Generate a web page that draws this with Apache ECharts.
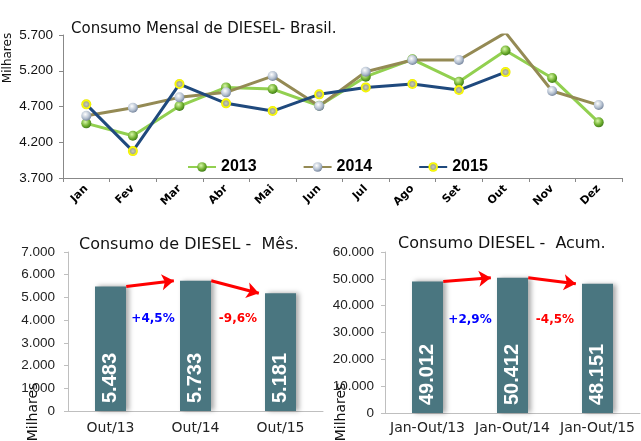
<!DOCTYPE html>
<html><head><meta charset="utf-8">
<script src="https://cdn.jsdelivr.net/npm/echarts@6/dist/echarts.min.js"></script>
<style>html,body{margin:0;padding:0;background:#fff}#c{width:641px;height:441px}</style>
</head><body><div id="c"></div>
<script>
// ---- data ----
const months = ['Jan','Fev','Mar','Abr','Mai','Jun','Jul','Ago','Set','Out','Nov','Dez'];
const s2013 = [4464,4290,4706,4967,4944,4710,5117,5360,5047,5483,5098,4478];
const s2014 = [4570,4682,4828,4898,5126,4706,5186,5350,5350,5733,4916,4720];
const s2015 = [4730,4076,5014,4744,4636,4870,4967,5014,4930,5181];
const seriesNames = ['2013','2014','2015'];
const mesCats = ['Out/13','Out/14','Out/15'];
const mesVals = [5483,5733,5181];
const mesPct = ['+4,5%','-9,6%'];
const acumCats = ['Jan-Out/13','Jan-Out/14','Jan-Out/15'];
const acumVals = [49012,50412,48151];
const acumPct = ['+2,9%','-4,5%'];

const FONT = 'DejaVu Sans';
const NUMF = 'Liberation Sans';
const fmt = v => String(v).replace(/\B(?=(\d{3})+(?!\d))/g, '.');
const grad = (a,b,c) => ({type:'radial',x:0.4,y:0.35,r:0.75,colorStops:[{offset:0,color:a},{offset:0.55,color:b},{offset:1,color:c}]});
const greenBall = grad('#d8f8a8','#70b030','#2f6a10');
const silverBall = grad('#ffffff','#b4c0d0','#60708a');
const yellowBall = {type:'radial',x:0.5,y:0.5,r:0.5,colorStops:[{offset:0,color:'#c8ccc0'},{offset:0.5,color:'#a8ac90'},{offset:0.75,color:'#ffff00'},{offset:1,color:'#e8e800'}]};
const pctColors = ['#0000ff','#ff0000'];
const HW = 0.185;   // half bar width in category units
const TIP = 0.07;   // arrow head half-length in category units

function arrowLines(vals){
  const out = [];
  for (let i = 0; i < vals.length - 1; i++) {
    out.push([{coord:[i + HW, vals[i]]},{coord:[i + 1 - HW - TIP, vals[i + 1]]}]);
  }
  return out;
}
function pctPoints(pcts, max){
  return pcts.map((t,i) => ({coord:[i + 0.5, max * 0.58], value:t, label:{color:pctColors[i]}}));
}
const barXLabel = {fontFamily:FONT, fontSize:14, color:'#222'};
const barYLabel = {fontFamily:NUMF, fontSize:13.5, color:'#222'};
const barLabel = {show:true, position:'insideBottom', rotate:90, align:'left', verticalAlign:'middle', distance:8,
  color:'#fff', fontFamily:NUMF, fontWeight:'bold', fontSize:20, formatter:p => fmt(p.value)};
const barItem = {color:'#4a7680', shadowColor:'rgba(0,0,0,0.35)', shadowBlur:5, shadowOffsetX:3, shadowOffsetY:0};
const markLineCfg = vals => ({silent:true, symbol:['none','arrow'], symbolSize:12, animation:false, z:10,
  lineStyle:{color:'#ff0000', width:3, type:'solid'}, itemStyle:{color:'#ff0000'}, label:{show:false},
  emphasis:{disabled:true}, data:arrowLines(vals)});
const markPointCfg = (pcts,max) => ({silent:true, symbol:'circle', symbolSize:0, animation:false,
  label:{show:true, position:'inside', formatter:p => p.value, fontFamily:FONT, fontWeight:'bold', fontSize:12},
  data:pctPoints(pcts,max)});
const lightAxis = {show:true, onZero:false, lineStyle:{color:'#bfbfbf'}};

const chart = echarts.init(document.getElementById('c'), null, {renderer:'canvas'});
chart.setOption({
  animation:false,
  backgroundColor:'#fff',
  title:[
    {text:'Consumo Mensal de DIESEL- Brasil.', left:66, top:17, textStyle:{fontFamily:FONT, fontSize:15, fontWeight:'normal', color:'#111'}},
    {text:'Consumo de DIESEL -  Mês.', left:74, top:232, textStyle:{fontFamily:FONT, fontSize:16, fontWeight:'normal', color:'#111'}},
    {text:'Consumo DIESEL -  Acum.', left:393, top:231, textStyle:{fontFamily:FONT, fontSize:16, fontWeight:'normal', color:'#111'}}
  ],
  legend:{data:seriesNames, left:182, top:154, itemWidth:28, itemHeight:12, itemGap:46,
    textStyle:{fontFamily:NUMF, fontSize:16, fontWeight:'bold', color:'#000'}},
  grid:[
    {left:63, right:19, top:35, bottom:263},
    {left:68, right:318, top:252, bottom:30},
    {left:385, right:1, top:252, bottom:28}
  ],
  xAxis:[
    {type:'category', gridIndex:0, data:months, boundaryGap:true,
      axisLine:{lineStyle:{color:'#888'}}, axisTick:{show:true, length:4, lineStyle:{color:'#888'}},
      axisLabel:{rotate:45, fontFamily:FONT, fontSize:11, fontWeight:'bold', color:'#000', margin:9, interval:0}},
    {type:'category', gridIndex:1, data:mesCats, axisLine:lightAxis, axisTick:{length:4, lineStyle:{color:'#bfbfbf'}},
      axisLabel:Object.assign({margin:10}, barXLabel)},
    {type:'category', gridIndex:2, data:acumCats, axisLine:lightAxis, axisTick:{length:4, lineStyle:{color:'#bfbfbf'}},
      axisLabel:Object.assign({margin:8, interval:0}, barXLabel)},
    {type:'value', gridIndex:1, min:-0.5, max:2.5, show:false},
    {type:'value', gridIndex:2, min:-0.5, max:2.5, show:false}
  ],
  yAxis:[
    {type:'value', gridIndex:0, min:3700, max:5700, interval:500, splitLine:{show:false},
      axisLine:{show:true, onZero:false, lineStyle:{color:'#888'}}, axisTick:{show:true, length:4, lineStyle:{color:'#888'}},
      axisLabel:{fontFamily:NUMF, fontSize:13.5, color:'#111', formatter:fmt, margin:10}},
    {type:'value', gridIndex:1, min:0, max:7000, interval:1000, splitLine:{show:false},
      axisLine:lightAxis, axisTick:{show:true, length:4, lineStyle:{color:'#bfbfbf'}},
      axisLabel:Object.assign({formatter:fmt, margin:13}, barYLabel)},
    {type:'value', gridIndex:2, min:0, max:60000, interval:10000, splitLine:{show:false},
      axisLine:lightAxis, axisTick:{show:true, length:4, lineStyle:{color:'#bfbfbf'}},
      axisLabel:Object.assign({formatter:fmt, margin:11}, barYLabel)}
  ],
  series:[
    {name:'2013', type:'line', xAxisIndex:0, yAxisIndex:0, data:s2013, symbol:'circle', symbolSize:10,
      lineStyle:{color:'#92d050', width:3}, itemStyle:{color:greenBall}, color:'#92d050'},
    {name:'2014', type:'line', xAxisIndex:0, yAxisIndex:0, data:s2014, symbol:'circle', symbolSize:10,
      lineStyle:{color:'#948a54', width:3}, itemStyle:{color:silverBall}, color:'#948a54'},
    {name:'2015', type:'line', xAxisIndex:0, yAxisIndex:0, data:s2015, symbol:'circle', symbolSize:10,
      lineStyle:{color:'#1f497d', width:3}, itemStyle:{color:yellowBall}, color:'#1f497d'},
    {type:'bar', xAxisIndex:1, yAxisIndex:1, data:mesVals, barWidth:31, itemStyle:barItem, label:barLabel},
    {type:'bar', xAxisIndex:2, yAxisIndex:2, data:acumVals, barWidth:31, itemStyle:barItem, label:barLabel},
    {type:'scatter', xAxisIndex:3, yAxisIndex:1, data:[], symbolSize:0, z:5, markLine:markLineCfg(mesVals), markPoint:markPointCfg(mesPct,7000)},
    {type:'scatter', xAxisIndex:4, yAxisIndex:2, data:[], symbolSize:0, z:5, markLine:markLineCfg(acumVals), markPoint:markPointCfg(acumPct,60000)}
  ],
  graphic:[
    {type:'text', x:8, y:58, rotation:Math.PI/2, style:{text:'Milhares', fontFamily:FONT, fontSize:12, fill:'#111', textAlign:'center', textVerticalAlign:'middle'}},
    {type:'text', x:33, y:412, rotation:Math.PI/2, style:{text:'Milhares', fontFamily:FONT, fontSize:14, fill:'#111', textAlign:'center', textVerticalAlign:'middle'}},
    {type:'text', x:341, y:412, rotation:Math.PI/2, style:{text:'Milhares', fontFamily:FONT, fontSize:14, fill:'#111', textAlign:'center', textVerticalAlign:'middle'}}
  ]
});
</script></body></html>
